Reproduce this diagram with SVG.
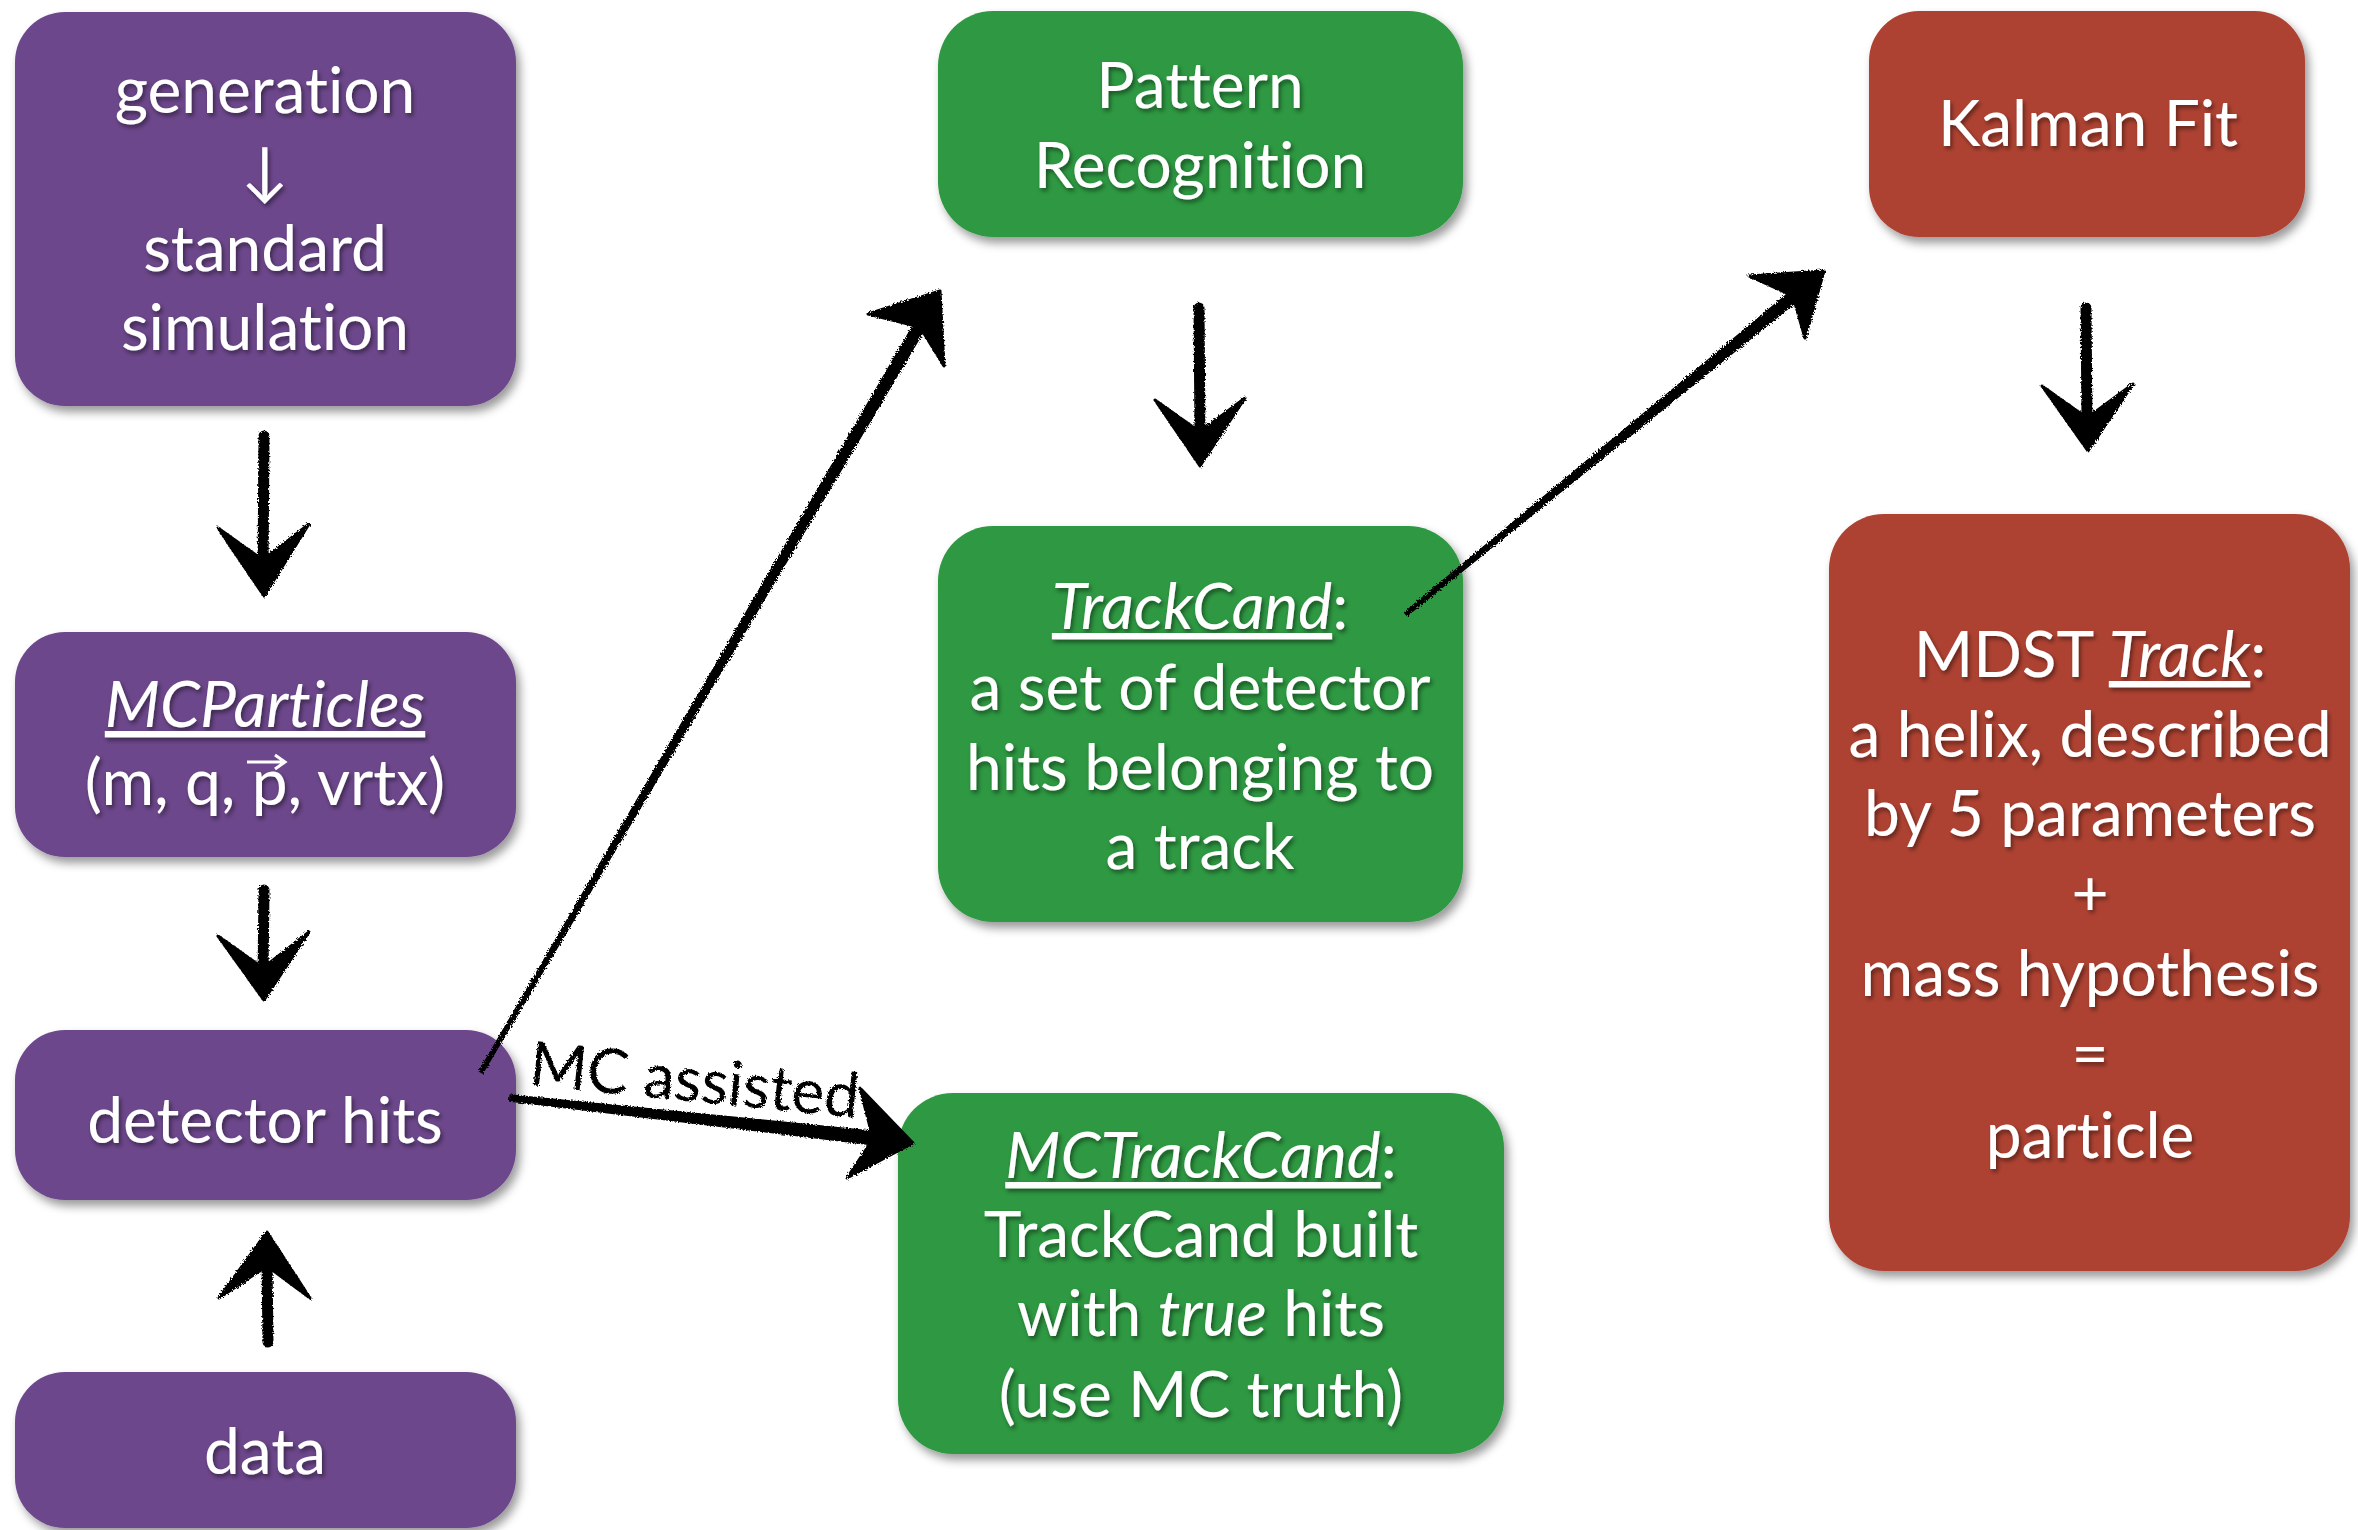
<svg xmlns="http://www.w3.org/2000/svg" width="2358" height="1530" viewBox="0 0 2358 1530">
<defs>
<filter id="bshadow" x="-10%" y="-10%" width="120%" height="125%">
<feDropShadow dx="4" dy="6" stdDeviation="5" flood-color="#000" flood-opacity="0.4"/>
</filter>
<filter id="tshadow" x="-5%" y="-20%" width="110%" height="140%">
<feDropShadow dx="2" dy="3" stdDeviation="2" flood-color="#000" flood-opacity="0.45"/>
</filter>
<filter id="rough" x="-10%" y="-10%" width="120%" height="120%">
<feTurbulence type="fractalNoise" baseFrequency="0.6" numOctaves="2" seed="3" result="n"/>
<feDisplacementMap in="SourceGraphic" in2="n" scale="4"/>
</filter>
<style>
.purple { fill: #6c478b; filter: url(#bshadow); }
.green { fill: #2f9843; filter: url(#bshadow); }
.red { fill: #ae4233; filter: url(#bshadow); }
.lbl { font-family: Lato, 'Liberation Sans', sans-serif; font-size: 64px; fill: #ffffff; text-anchor: middle; filter: url(#tshadow); font-variant-ligatures: none; font-feature-settings: "liga" 0, "clig" 0; }
.it { font-style: italic; }
.ul { text-decoration: underline; }
.shaft { stroke: #000; fill: none; stroke-linecap: round; }
.taper { fill: #000; stroke: #000; stroke-width: 1.5; stroke-linejoin: round; }
.head { fill: #000; stroke: #000; stroke-width: 3; stroke-linejoin: round; }
.mc { font-family: Lato, 'Liberation Sans', sans-serif; font-size: 62px; fill: #000; font-variant-ligatures: none; }
</style>
</defs>
<rect width="2358" height="1530" fill="#ffffff"/>

<g id="node-generation">
<rect class="purple" x="15" y="12" width="501" height="394" rx="50"/>
<text class="lbl" x="265" y="113">generation</text>
<text class="lbl" x="265" y="193">↓</text>
<text class="lbl" x="265" y="271">standard</text>
<text class="lbl" x="265" y="350">simulation</text>
</g>

<g id="node-mcparticles">
<rect class="purple" x="15" y="632" width="501" height="225" rx="50"/>
<text class="lbl" x="265" y="727"><tspan class="it ul">MCParticles</tspan></text>
<text class="lbl" x="265" y="805">(m, q, p, vrtx)</text>
<path d="M247 762 H284 M275 755 L285 762 L275 769" stroke="#fff" stroke-width="3" fill="none"/>
</g>

<g id="node-detector-hits">
<rect class="purple" x="15" y="1030" width="501" height="170" rx="50"/>
<text class="lbl" x="265" y="1143">detector hits</text>
</g>

<g id="node-data">
<rect class="purple" x="15" y="1372" width="501" height="156" rx="50"/>
<text class="lbl" x="265" y="1474">data</text>
</g>

<g id="node-pattern-recognition">
<rect class="green" x="938" y="11" width="525" height="226" rx="55"/>
<text class="lbl" x="1200" y="108">Pattern</text>
<text class="lbl" x="1200" y="188">Recognition</text>
</g>

<g id="node-trackcand">
<rect class="green" x="938" y="526" width="525" height="396" rx="55"/>
<text class="lbl" x="1200" y="629"><tspan class="it ul">TrackCand</tspan>:</text>
<text class="lbl" x="1200" y="710">a set of detector</text>
<text class="lbl" x="1200" y="790">hits belonging to</text>
<text class="lbl" x="1200" y="869">a track</text>
</g>

<g id="node-mctrackcand">
<rect class="green" x="898" y="1093" width="606" height="361" rx="55"/>
<text class="lbl" x="1201" y="1178"><tspan class="it ul">MCTrackCand</tspan>:</text>
<text class="lbl" x="1201" y="1257">TrackCand built</text>
<text class="lbl" x="1201" y="1336">with <tspan class="it">true</tspan> hits</text>
<text class="lbl" x="1201" y="1417">(use MC truth)</text>
</g>

<g id="node-kalman-fit">
<rect class="red" x="1869" y="11" width="436" height="226" rx="50"/>
<text class="lbl" x="2088" y="146">Kalman Fit</text>
</g>

<g id="node-mdst-track">
<rect class="red" x="1829" y="514" width="521" height="757" rx="55"/>
<text class="lbl" x="2090" y="677">MDST <tspan class="it ul">Track</tspan>:</text>
<text class="lbl" x="2090" y="757">a helix, described</text>
<text class="lbl" x="2090" y="836">by 5 parameters</text>
<text class="lbl" x="2090" y="916">+</text>
<text class="lbl" x="2090" y="996">mass hypothesis</text>
<text class="lbl" x="2090" y="1076">=</text>
<text class="lbl" x="2090" y="1158">particle</text>
</g>

<g id="connectors" filter="url(#rough)">
<!-- generation -> MCParticles -->
<path class="shaft" stroke-width="11" d="M264 436 L263 570"/>
<polygon class="head" points="218,528 263,560 309,524 264,596"/>
<!-- MCParticles -> detector hits -->
<path class="shaft" stroke-width="11" d="M264 890 L263 975"/>
<polygon class="head" points="218,936 263,968 309,932 264,1000"/>
<!-- data -> detector hits -->
<path class="shaft" stroke-width="11" d="M268 1342 L267 1262"/>
<polygon class="head" points="219,1298 267,1266 310,1298 267,1232"/>
<!-- detector hits -> Pattern Recognition -->
<polygon class="taper" points="479.3,1071 922.8,309 933.2,315 482.7,1073"/>
<polygon class="head" points="940,291 868,314 920,327 944,366"/>
<!-- detector hits -> MCTrackCand (MC assisted) -->
<polygon class="taper" points="510.3,1095 900.8,1134 899.2,1148 509.7,1101"/>
<polygon class="head" points="913,1143 860,1088 873,1139 847,1178"/>
<text class="mc" x="528" y="1085" transform="rotate(5.7 528 1085)">MC assisted</text>
<!-- Pattern Recognition -> TrackCand -->
<path class="shaft" stroke-width="11" d="M1199 308 L1200 435"/>
<polygon class="head" points="1155,400 1200,432 1245,398 1200,466"/>
<!-- TrackCand -> Kalman Fit -->
<polygon class="taper" points="1404.7,612.5 1806.2,278.4 1813.8,287.6 1407.3,615.5"/>
<polygon class="head" points="1824,271 1749,276 1793,296 1805,338"/>
<!-- Kalman Fit -> MDST Track -->
<path class="shaft" stroke-width="11" d="M2086 308 L2087 420"/>
<polygon class="head" points="2042,386 2087,418 2133,384 2088,451"/>
</g>
</svg>
